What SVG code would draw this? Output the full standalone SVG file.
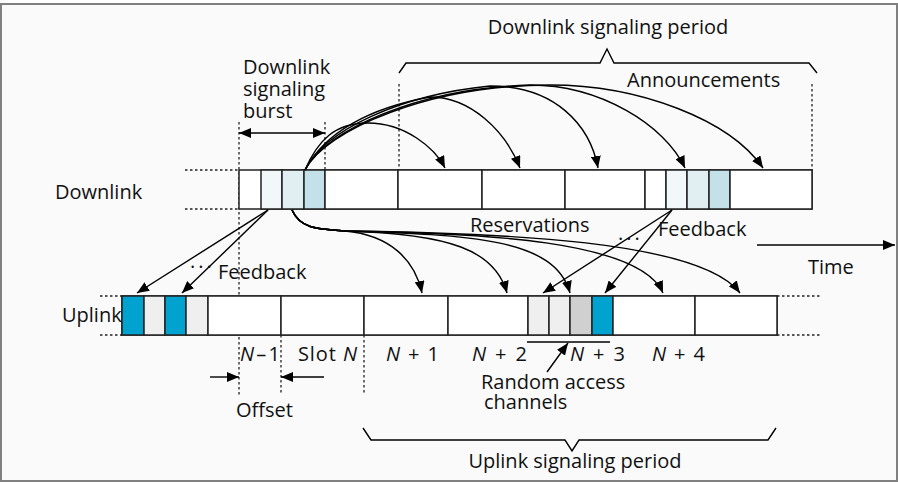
<svg xmlns="http://www.w3.org/2000/svg" width="898" height="482" viewBox="0 0 898 482">
<style>
.t{font-family:"Open Sans","Noto Sans",sans-serif;font-size:20px;fill:#111}
.i{font-style:italic}
.cell{stroke:#222;stroke-width:1.5}
.ln{fill:none;stroke:#000;stroke-width:1.4}
.dot{fill:none;stroke:#222;stroke-width:1.3;stroke-dasharray:2.5,2.5}
.arr{fill:none;stroke:#000;stroke-width:1.4;marker-end:url(#ah)}
</style>
<defs>
<marker id="ah" viewBox="0 0 12 10" refX="12" refY="5" markerWidth="12" markerHeight="10" markerUnits="userSpaceOnUse" orient="auto-start-reverse">
<path d="M0,0 L12,5 L0,10 z" fill="#000"/>
</marker>
</defs>
<rect x="1" y="4" width="896" height="477" fill="#fafafa" stroke="#808080" stroke-width="2"/>

<g id="guides">
<path class="dot" d="M185,170 H239 M185,209 H239 M100,296 H122 M100,335 H122 M777,296 H822 M777,335 H822"/>
<path class="dot" d="M239,122 V395 M325,122 V170 M399,84 V170 M812,84 V170 M281,335 V395 M364,335 V395"/>
</g>

<g id="downlink">
<rect class="cell" x="239" y="170" width="573" height="39" fill="#fff"/>
<rect class="cell" x="261" y="170" width="21" height="39" fill="#f2f7f9"/>
<rect class="cell" x="282" y="170" width="22" height="39" fill="#e2eff2"/>
<rect class="cell" x="304" y="170" width="21" height="39" fill="#c4e0e8"/>
<rect class="cell" x="325" y="170" width="73" height="39" fill="#fff"/>
<rect class="cell" x="398" y="170" width="84" height="39" fill="#fff"/>
<rect class="cell" x="482" y="170" width="83" height="39" fill="#fff"/>
<rect class="cell" x="565" y="170" width="80" height="39" fill="#fff"/>
<rect class="cell" x="645" y="170" width="21" height="39" fill="#fff"/>
<rect class="cell" x="666" y="170" width="21" height="39" fill="#f2f7f9"/>
<rect class="cell" x="687" y="170" width="22" height="39" fill="#e2eff2"/>
<rect class="cell" x="709" y="170" width="21" height="39" fill="#c4e0e8"/>
<rect class="cell" x="730" y="170" width="82" height="39" fill="#fff"/>
</g>

<g id="uplink">
<rect class="cell" x="122" y="296" width="655" height="39" fill="#fff"/>
<rect class="cell" x="122" y="296" width="22" height="39" fill="#00a2cf"/>
<rect class="cell" x="144" y="296" width="21" height="39" fill="#efefef"/>
<rect class="cell" x="165" y="296" width="21" height="39" fill="#00a2cf"/>
<rect class="cell" x="186" y="296" width="22" height="39" fill="#efefef"/>
<rect class="cell" x="208" y="296" width="73" height="39" fill="#fff"/>
<rect class="cell" x="281" y="296" width="83" height="39" fill="#fff"/>
<rect class="cell" x="364" y="296" width="84" height="39" fill="#fff"/>
<rect class="cell" x="448" y="296" width="80" height="39" fill="#fff"/>
<rect class="cell" x="528" y="296" width="21" height="39" fill="#efefef"/>
<rect class="cell" x="549" y="296" width="21" height="39" fill="#efefef"/>
<rect class="cell" x="570" y="296" width="22" height="39" fill="#d0d0d0"/>
<rect class="cell" x="592" y="296" width="21" height="39" fill="#00a2cf"/>
<rect class="cell" x="613" y="296" width="82" height="39" fill="#fff"/>
<rect class="cell" x="695" y="296" width="82" height="39" fill="#fff"/>
</g>

<g id="connectors">
<path class="arr" d="M305,170 C318,140 335,123 368,123 C405,123 435,148 445,168"/>
<path class="arr" d="M305,170 C325,132 370,108 430,97 C470,97 505,130 520,168"/>
<path class="arr" d="M305,170 C325,130 400,95 490,86 C555,86 590,125 598,168"/>
<path class="arr" d="M305,170 C325,130 420,88 530,85 C600,85 665,125 685,168"/>
<path class="arr" d="M305,170 C325,130 430,85 550,85 C640,85 730,120 763,168"/>

<path class="arr" d="M292,210 C300,228 315,229 345,231 C390,235 415,260 422,293"/>
<path class="arr" d="M292,210 C300,228 315,229 345,231 C450,234 495,250 507,293"/>
<path class="arr" d="M292,210 C300,228 315,229 345,231 C470,235 555,238 570,293"/>
<path class="arr" d="M292,210 C300,228 315,229 345,231 C480,233 640,240 663,293"/>
<path class="arr" d="M292,210 C300,228 315,229 345,231 C500,233 700,240 740,293"/>

<path class="arr" d="M268,210 L137,293"/>
<path class="arr" d="M268,210 L182,293"/>
<path class="arr" d="M672,210 L543,293"/>
<path class="arr" d="M672,210 L605,293"/>

<path class="arr" d="M239,133 L325,133" style="marker-start:url(#ah)"/>
<path class="arr" d="M210,377 L239,377"/>
<path class="arr" d="M324,377 L281,377"/>
<path class="arr" d="M757,245 L895,245"/>
<path class="arr" d="M547,372 L568,343"/>
<path class="ln" d="M527,342 L610,342"/>

<path class="ln" d="M399,73 L406,63 L600,63 L607,49 L614,63 L809,63 L817,73"/>
<path class="ln" d="M363,428 L371,440 L565,440 L572,451 L579,440 L768,440 L776,428"/>
</g>

<g id="labels">
<text class="t" x="608" y="34" text-anchor="middle">Downlink signaling period</text>
<text class="t" x="243" y="74">Downlink</text>
<text class="t" x="243" y="96">signaling</text>
<text class="t" x="243" y="118">burst</text>
<text class="t" x="627" y="87">Announcements</text>
<text class="t" x="55" y="199">Downlink</text>
<text class="t" x="62" y="322">Uplink</text>
<text class="t" x="470" y="232">Reservations</text>
<text class="t" x="618" y="240" letter-spacing="3">...</text>
<text class="t" x="658" y="236">Feedback</text>
<text class="t" x="190" y="268" letter-spacing="3">...</text>
<text class="t" x="218" y="279">Feedback</text>
<text class="t" x="808" y="274">Time</text>
<text class="t" x="240" y="361" textLength="40" lengthAdjust="spacing"><tspan class="i">N</tspan> – 1</text>
<text class="t" x="298" y="361" textLength="59" lengthAdjust="spacing">Slot <tspan class="i">N</tspan></text>
<text class="t" x="386" y="361" textLength="53" lengthAdjust="spacing"><tspan class="i">N</tspan> + 1</text>
<text class="t" x="472" y="361" textLength="55" lengthAdjust="spacing"><tspan class="i">N</tspan> + 2</text>
<text class="t" x="570" y="361" textLength="55" lengthAdjust="spacing"><tspan class="i">N</tspan> + 3</text>
<text class="t" x="652" y="361" textLength="53" lengthAdjust="spacing"><tspan class="i">N</tspan> + 4</text>
<text class="t" x="481" y="389">Random access</text>
<text class="t" x="484" y="409">channels</text>
<text class="t" x="236" y="417">Offset</text>
<text class="t" x="575" y="468" text-anchor="middle">Uplink signaling period</text>
</g>
</svg>
